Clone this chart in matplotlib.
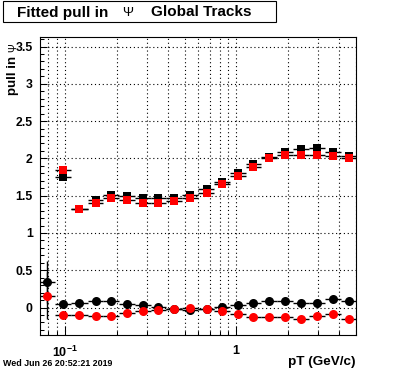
import numpy as np
import matplotlib
matplotlib.use("Agg")
import matplotlib.pyplot as plt
import matplotlib.ticker as tck
from matplotlib.patches import Rectangle

plt.rcParams['font.family'] = ['Liberation Sans', 'DejaVu Sans']
plt.rcParams['mathtext.fontset'] = 'custom'
plt.rcParams['mathtext.rm'] = 'Liberation Sans:bold'
plt.rcParams['mathtext.it'] = 'Liberation Sans:bold'
plt.rcParams['mathtext.bf'] = 'Liberation Sans:bold'

# bin edges and centres in pT (GeV/c)
bin_edges = [0.0710, 0.0878, 0.1088, 0.1354, 0.1677, 0.2075, 0.2577, 0.3176, 0.3913,
             0.4853, 0.6027, 0.7476, 0.9249, 1.139, 1.406, 1.744, 2.163, 2.684,
             3.328, 4.112, 5.068]
pt = [0.0788, 0.0977, 0.1212, 0.1512, 0.1858, 0.2313, 0.2870, 0.3512, 0.4357, 0.5404,
      0.6723, 0.8317, 1.027, 1.262, 1.566, 1.942, 2.409, 2.988, 3.707, 4.560]

# width of the pull (squares) -- no entry in first bin
sigma_black = [1.752, 1.321, 1.438, 1.515, 1.490, 1.470, 1.470, 1.475, 1.515, 1.585,
               1.690, 1.800, 1.925, 2.020, 2.087, 2.130, 2.140, 2.080, 2.034]
sigma_red = [1.841, 1.321, 1.405, 1.472, 1.442, 1.402, 1.402, 1.430, 1.470, 1.541,
             1.655, 1.763, 1.890, 2.007, 2.043, 2.043, 2.043, 2.034, 2.007]

# mean of the pull (circles)
mean_black = [0.345, 0.054, 0.067, 0.090, 0.090, 0.054, 0.031, 0.004, -0.018, -0.035,
              -0.025, 0.004, 0.040, 0.063, 0.094, 0.094, 0.063, 0.067, 0.121, 0.094]
mean_red = [0.161, -0.094, -0.094, -0.112, -0.112, -0.072, -0.040, -0.027, -0.018, 0.000,
            -0.018, -0.040, -0.085, -0.121, -0.121, -0.121, -0.152, -0.108, -0.085, -0.152]
mean_black_err = [0.285] + [0.01] * 18 + [0.035]
mean_red_err = [0.31] + [0.01] * 18 + [0.04]

W, H = 396, 372
fig = plt.figure(figsize=(W / 100, H / 100), dpi=100)
ax = fig.add_axes([0.1, 0.1, 0.8, 0.8])

pt = np.array(pt)
edges = np.array(bin_edges)
xerr_all = [pt - edges[:-1], edges[1:] - pt]
xerr_sq = [xerr_all[0][1:], xerr_all[1][1:]]

ebkw = dict(ecolor='black', elinewidth=1.0, capsize=0, markeredgewidth=0, linestyle='none')
ax.errorbar(pt[1:], sigma_black, xerr=xerr_sq, yerr=0.01, fmt='s', color='black', ms=6, **ebkw)
ax.errorbar(pt[1:], sigma_red, xerr=xerr_sq, yerr=0.01, fmt='s', color='#ff0000', ms=6, **ebkw)
ax.errorbar(pt, mean_black, xerr=xerr_all, yerr=mean_black_err, fmt='o', color='black', ms=6.5, **ebkw)
ax.errorbar(pt, mean_red, xerr=xerr_all, yerr=mean_red_err, fmt='o', color='#ff0000', ms=6.5, **ebkw)

ax.set_xscale('log')
ax.set_xlim(0.071, 5.05)
ax.set_ylim(-0.365, 3.625)

ax.set_xticks([0.1, 1])
ax.set_xticklabels([r'10$^{-1}$', '1'])
ax.xaxis.set_minor_locator(tck.LogLocator(base=10, subs=np.arange(2, 10), numticks=20))
ax.xaxis.set_minor_formatter(tck.NullFormatter())
ax.yaxis.set_major_locator(tck.MultipleLocator(0.5))
ax.yaxis.set_minor_locator(tck.MultipleLocator(0.1))
ax.yaxis.set_major_formatter(tck.FuncFormatter(lambda v, p: '0' if abs(v) < 1e-9 else ('%g' % v)))

ax.tick_params(which='both', direction='in', top=False, right=False, width=0.75)
ax.tick_params(axis='x', which='major', length=6.5, pad=7, labelsize=9)
ax.tick_params(axis='x', which='minor', length=3)
ax.tick_params(axis='y', which='major', length=5, pad=5, labelsize=8.8)
ax.tick_params(axis='y', which='minor', length=2.8)
for lab in ax.get_xticklabels() + ax.get_yticklabels():
    lab.set_fontweight('bold')

gkw = dict(color='black', linestyle=(0, (1, 2.5)), linewidth=0.8)
ax.grid(True, axis='x', which='both', **gkw)
ax.grid(True, axis='y', which='major', **gkw)
ax.set_axisbelow(True)
for s in ax.spines.values():
    s.set_linewidth(0.8)

# title box
fig.patches.append(Rectangle((3.3 / W, 1 - 22 / H), 272.7 / W, 21 / H, transform=fig.transFigure,
                             facecolor='white', edgecolor='black', linewidth=0.8))
ty = 1 - 12.5 / H
fig.text(16.7 / W, ty, 'Fitted pull in', fontsize=11, fontweight='bold', va='center', ha='left')
fig.text(127.5 / W, ty, 'Ψ', fontsize=9.5, va='center', ha='center')
fig.text(150.7 / W, ty, 'Global Tracks', fontsize=11, fontweight='bold', va='center', ha='left')

# axis labels
fig.text(13.5 / W, 1 - 95 / H, 'pull in', rotation=90, fontsize=9.5, fontweight='bold',
         ha='center', va='bottom')
fig.text(13.5 / W, 1 - 47.5 / H, 'Ψ', rotation=90, fontsize=7.5, ha='center', va='center')
fig.text(355.5 / W, 1 - 362.5 / H, 'pT (GeV/c)', fontsize=9.7, fontweight='bold',
         ha='right', va='center')

fig.text(3 / W, 1 - 363.5 / H, 'Wed Jun 26 20:52:21 2019', fontsize=6.4, fontweight='bold',
         ha='left', va='center')

fig.savefig('out.png', dpi=100)
